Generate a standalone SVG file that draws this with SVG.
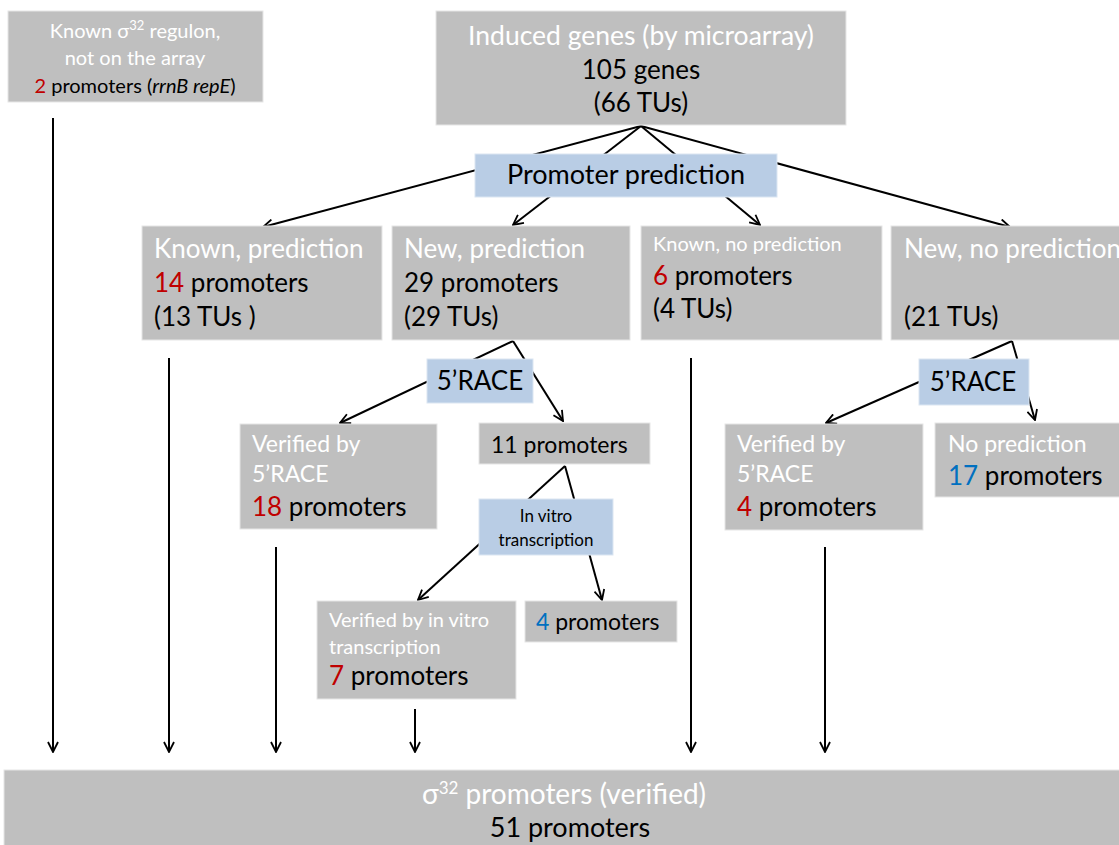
<svg xmlns="http://www.w3.org/2000/svg" width="1119" height="845" viewBox="0 0 1119 845">
<defs>
<marker id="arr" viewBox="0 0 12 12" refX="11" refY="6" markerWidth="12" markerHeight="12" markerUnits="userSpaceOnUse" orient="auto">
<path d="M1,1 L11,6 L1,11" fill="none" stroke="#000" stroke-width="1.8"/>
</marker>
<style>
text{font-family:Lato,"Open Sans","Liberation Sans",sans-serif;fill:#000}
.g{fill:#bfbfbf;stroke:#e6e6e6;stroke-width:1}
.b{fill:#b9cde5;stroke:#dbe6f2;stroke-width:1}
.w{fill:#fff}
.r{fill:#c00000}
.bl{fill:#0070c0}
.c{text-anchor:middle}
.a{stroke:#000;stroke-width:2;fill:none;marker-end:url(#arr)}
</style>
</defs>
<g id="connectors">
<line class="a" x1="641" y1="126" x2="263" y2="227"/>
<line class="a" x1="641" y1="126" x2="513" y2="225"/>
<line class="a" x1="641" y1="126" x2="760" y2="225"/>
<line class="a" x1="641" y1="126" x2="1010" y2="227"/>
<line class="a" x1="513" y1="341" x2="340" y2="423"/>
<line class="a" x1="513" y1="341" x2="563" y2="421"/>
<line class="a" x1="565" y1="466" x2="418" y2="600"/>
<line class="a" x1="565" y1="466" x2="602" y2="600"/>
<line class="a" x1="1012" y1="341" x2="826" y2="423"/>
<line class="a" x1="1012" y1="341" x2="1035" y2="420"/>
<line class="a" x1="53" y1="118" x2="53" y2="752"/>
<line class="a" x1="169" y1="358" x2="169" y2="752"/>
<line class="a" x1="276" y1="547" x2="276" y2="752"/>
<line class="a" x1="415" y1="709" x2="415" y2="752"/>
<line class="a" x1="691" y1="358" x2="691" y2="752"/>
<line class="a" x1="825" y1="547" x2="825" y2="752"/>
</g>
<g id="known-regulon">
<rect class="g" x="8" y="11" width="255" height="91"/>
<text class="c w" x="135" y="38" font-size="20">Known σ<tspan font-size="13" dy="-8">32</tspan><tspan dy="8"> regulon,</tspan></text>
<text class="c w" x="135" y="65" font-size="20">not on the array</text>
<text class="c" x="135" y="93" font-size="20"><tspan class="r">2</tspan> promoters (<tspan font-style="italic">rrnB repE</tspan>)</text>
</g>
<g id="induced">
<rect class="g" x="436" y="11" width="410" height="114"/>
<text class="c w" x="641" y="45" font-size="26.5">Induced genes (by microarray)</text>
<text class="c" x="641" y="79" font-size="26">105 genes</text>
<text class="c" x="641" y="112" font-size="26">(66 TUs)</text>
</g>
<g id="promoter-prediction">
<rect class="b" x="475" y="154" width="302" height="43"/>
<text class="c" x="626" y="184" font-size="27">Promoter prediction</text>
</g>
<g id="known-prediction">
<rect class="g" x="142" y="226" width="240" height="114"/>
<text class="w" x="154" y="258" font-size="26">Known, prediction</text>
<text x="154" y="292" font-size="26"><tspan class="r">14</tspan> promoters</text>
<text x="154" y="326" font-size="26">(13 TUs )</text>
</g>
<g id="new-prediction">
<rect class="g" x="392" y="226" width="238" height="114"/>
<text class="w" x="404" y="258" font-size="26">New, prediction</text>
<text x="404" y="292" font-size="26">29 promoters</text>
<text x="404" y="326" font-size="26">(29 TUs)</text>
</g>
<g id="known-no-prediction">
<rect class="g" x="641" y="226" width="241" height="114"/>
<text class="w" x="653" y="251" font-size="20">Known, no prediction</text>
<text x="653" y="285" font-size="26"><tspan class="r">6</tspan> promoters</text>
<text x="653" y="318" font-size="26">(4 TUs)</text>
</g>
<g id="new-no-prediction">
<rect class="g" x="891" y="226" width="240" height="114"/>
<text class="w" x="904" y="258" font-size="26">New, no prediction</text>
<text x="904" y="326" font-size="26">(21 TUs)</text>
</g>
<g id="race1">
<rect class="b" x="427" y="359" width="106" height="44"/>
<text class="c" x="480" y="390" font-size="26">5’RACE</text>
</g>
<g id="verified-race1">
<rect class="g" x="240" y="424" width="197" height="105"/>
<text class="w" x="252" y="452" font-size="23">Verified by</text>
<text class="w" x="252" y="482" font-size="23">5’RACE</text>
<text x="252" y="516" font-size="26"><tspan class="r">18</tspan> promoters</text>
</g>
<g id="eleven">
<rect class="g" x="479" y="423" width="171" height="41"/>
<text x="491" y="453" font-size="23">11 promoters</text>
</g>
<g id="in-vitro">
<rect class="b" x="479" y="499" width="134" height="56"/>
<text class="c" x="546" y="522" font-size="17">In vitro</text>
<text class="c" x="546" y="546" font-size="17">transcription</text>
</g>
<g id="verified-vitro">
<rect class="g" x="317" y="601" width="199" height="98"/>
<text class="w" x="329" y="627" font-size="20">Verified by in vitro</text>
<text class="w" x="329" y="654" font-size="20">transcription</text>
<text x="329" y="685" font-size="26"><tspan class="r">7</tspan> promoters</text>
</g>
<g id="four-blue">
<rect class="g" x="525" y="601" width="152" height="41"/>
<text x="536" y="630" font-size="23"><tspan class="bl">4</tspan> promoters</text>
</g>
<g id="race2">
<rect class="b" x="919" y="359" width="110" height="46"/>
<text class="c" x="973" y="391" font-size="26">5’RACE</text>
</g>
<g id="verified-race2">
<rect class="g" x="725" y="424" width="198" height="106"/>
<text class="w" x="737" y="452" font-size="23">Verified by</text>
<text class="w" x="737" y="482" font-size="23">5’RACE</text>
<text x="737" y="516" font-size="26"><tspan class="r">4</tspan> promoters</text>
</g>
<g id="no-prediction">
<rect class="g" x="935" y="423" width="190" height="74"/>
<text class="w" x="948" y="452" font-size="23">No prediction</text>
<text x="948" y="485" font-size="26"><tspan class="bl">17</tspan> promoters</text>
</g>
<g id="verified-total">
<rect class="g" x="4" y="770" width="1125" height="80"/>
<text class="c w" x="564" y="804" font-size="28">σ<tspan font-size="17" dy="-10">32</tspan><tspan dy="10"> promoters (verified)</tspan></text>
<text class="c" x="570" y="837" font-size="27">51 promoters</text>
</g>
</svg>
